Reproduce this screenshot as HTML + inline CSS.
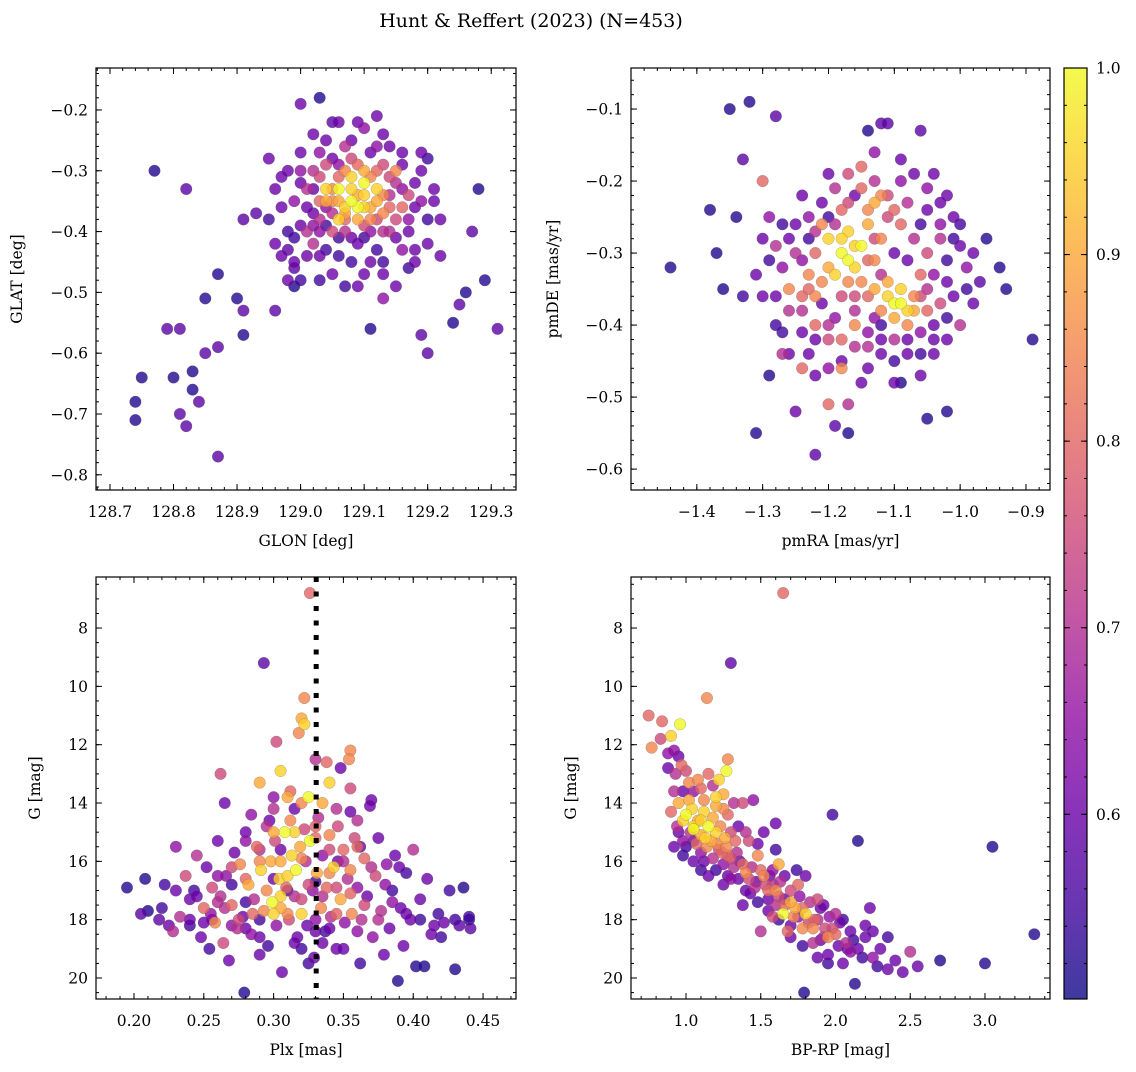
<!DOCTYPE html>
<html><head><meta charset="utf-8"><style>
html,body{margin:0;padding:0;background:#fff;}
svg text{font-family:"DejaVu Serif","Liberation Serif",serif;fill:#000;}
</style></head><body>
<svg id="fig" width="1136" height="1067" viewBox="0 0 1136 1067" xmlns="http://www.w3.org/2000/svg">
<text x="531" y="27" font-size="19" text-anchor="middle">Hunt &amp; Reffert (2023) (N=453)</text>
</svg>
<script>
// ---------- data ----------
const skyPoints = [
[128.74,-0.68,.52],[128.74,-0.71,.52],[128.75,-0.64,.52],[128.77,-0.30,.52],[128.79,-0.56,.58],[128.80,-0.64,.52],[128.81,-0.70,.58],[128.81,-0.56,.58],[128.82,-0.33,.58],[128.83,-0.63,.52],[128.83,-0.66,.52],[128.82,-0.72,.58],[128.84,-0.68,.58],[128.85,-0.60,.58],[128.85,-0.51,.52],[128.87,-0.47,.52],[128.87,-0.59,.58],[128.87,-0.77,.58],[128.90,-0.51,.52],[128.91,-0.53,.58],[128.91,-0.57,.52],[128.91,-0.38,.58],[128.93,-0.37,.58],[128.96,-0.53,.58],[128.98,-0.43,.58],[128.99,-0.46,.58],[128.99,-0.49,.52],[129.24,-0.55,.52],[129.25,-0.52,.58],[129.26,-0.50,.52],[129.27,-0.40,.58],[129.28,-0.33,.52],[129.29,-0.48,.52],[129.31,-0.56,.58],[129.20,-0.60,.58],[129.19,-0.57,.58],[129.11,-0.56,.52],[129.03,-0.18,.52],[129.05,-0.22,.58],
[129.00,-0.19,.6],[129.02,-0.24,.6],[129.06,-0.22,.6],[129.09,-0.22,.6],[129.10,-0.23,.65],[129.12,-0.21,.6],[129.14,-0.26,.6],[129.16,-0.29,.6],[129.19,-0.27,.6],[129.19,-0.30,.6],[129.21,-0.33,.6],[129.22,-0.38,.6],[129.20,-0.42,.6],[129.22,-0.44,.6],[129.18,-0.45,.6],[129.15,-0.49,.6],[129.13,-0.51,.65],[129.09,-0.49,.6],[129.08,-0.45,.55],[129.05,-0.47,.6],[129.03,-0.48,.55],[129.01,-0.44,.6],[128.99,-0.45,.6],[128.98,-0.40,.55],[128.97,-0.36,.6],[128.96,-0.33,.6],[128.95,-0.28,.6],[128.98,-0.30,.6],[129.00,-0.30,.65],[129.03,-0.27,.65],[129.05,-0.28,.6],[129.07,-0.26,.7],[129.11,-0.27,.6],[129.13,-0.29,.75],[129.15,-0.32,.7],[129.17,-0.34,.75],[129.17,-0.38,.65],[129.15,-0.41,.6],[129.12,-0.43,.55],[129.10,-0.41,.55],[129.06,-0.41,.55],[129.04,-0.39,.55],[129.02,-0.37,.6],[129.00,-0.39,.6],[128.99,-0.35,.65],[129.01,-0.33,.7],[129.03,-0.31,.75],[129.05,-0.33,.85],[129.07,-0.30,.85],[129.09,-0.29,.8],[129.11,-0.31,.85],[129.13,-0.34,.85],[129.14,-0.36,.8],[129.12,-0.38,.75],[129.10,-0.39,.75],[129.07,-0.38,.8],[129.05,-0.37,.7],[129.03,-0.35,.8],[129.06,-0.35,.9],[129.08,-0.33,.95],[129.10,-0.34,.95],[129.09,-0.36,1.0],[129.07,-0.36,.95],[129.11,-0.36,.9],[129.08,-0.31,.95],[129.10,-0.32,1.0],[129.12,-0.33,.95],[129.06,-0.38,.95],[129.09,-0.38,.9],[129.04,-0.35,.9],[129.13,-0.37,.85],[129.02,-0.42,.7],[129.04,-0.43,.55],[129.16,-0.43,.65],[129.18,-0.36,.6],[128.98,-0.48,.6],[128.97,-0.44,.6],[129.14,-0.40,.7],[129.06,-0.29,.65],[129.03,-0.40,.65],[129.11,-0.45,.6],[129.16,-0.36,.8],[129.15,-0.30,.85],[129.02,-0.33,.6],[129.08,-0.41,.6],[129.12,-0.26,.65],
[129.0,-0.32,.6],[129.02,-0.30,.7],[129.04,-0.29,.75],[129.06,-0.31,.8],[129.08,-0.28,.75],[129.10,-0.30,.9],[129.12,-0.30,.8],[129.14,-0.31,.75],[129.16,-0.33,.65],[129.18,-0.32,.6],[129.19,-0.35,.65],[129.17,-0.40,.6],[129.15,-0.38,.75],[129.13,-0.40,.7],[129.11,-0.40,.65],[129.09,-0.42,.6],[129.07,-0.40,.7],[129.05,-0.40,.75],[129.03,-0.38,.7],[129.01,-0.36,.6],[129.04,-0.33,.95],[129.06,-0.33,1.0],[129.08,-0.35,1.0],[129.10,-0.36,.95],[129.12,-0.35,.9],[129.07,-0.37,.9],[129.11,-0.38,.85],[129.05,-0.35,.85],[129.09,-0.34,.9],[129.02,-0.39,.65],[128.99,-0.41,.55],[129.03,-0.44,.6],[129.06,-0.44,.55],[129.13,-0.45,.55],[129.18,-0.43,.6],[129.20,-0.38,.55],[129.21,-0.35,.6],[129.16,-0.27,.6],[129.13,-0.24,.6],[129.08,-0.25,.6],[129.04,-0.25,.6],[129.00,-0.27,.6],[128.97,-0.31,.6],[128.95,-0.38,.55],[128.96,-0.42,.6],[129.00,-0.48,.55],[129.07,-0.49,.55],[129.13,-0.47,.6],[129.17,-0.46,.55],[129.10,-0.47,.6],[129.20,-0.28,.55],[129.04,-0.36,.65],[129.14,-0.34,.7],[129.01,-0.40,.7]
];
const pmPoints = [
[-1.44,-0.32,.52],[-0.89,-0.42,.52],[-1.32,-0.09,.52],[-1.35,-0.10,.52],[-1.28,-0.11,.58],[-1.31,-0.55,.52],[-1.22,-0.58,.58],[-1.06,-0.13,.58],[-1.14,-0.13,.52],[-1.12,-0.12,.58],[-1.11,-0.12,.58],[-1.05,-0.53,.52],[-1.02,-0.52,.52],[-1.09,-0.48,.52],[-1.17,-0.55,.52],[-1.19,-0.54,.58],[-0.93,-0.35,.52],[-0.94,-0.32,.52],[-0.96,-0.28,.52],[-0.97,-0.34,.58],[-1.38,-0.24,.52],[-1.37,-0.30,.52],[-1.36,-0.35,.52],[-1.34,-0.25,.52],[-1.33,-0.17,.58],[-1.29,-0.47,.52],[-1.27,-0.44,.7],[-1.25,-0.52,.6],
[-1.25,-0.26,.6],[-1.23,-0.25,.65],[-1.21,-0.23,.6],[-1.19,-0.21,.7],[-1.17,-0.19,.75],[-1.15,-0.18,.8],[-1.13,-0.20,.7],[-1.11,-0.22,.75],[-1.09,-0.20,.65],[-1.07,-0.19,.6],[-1.05,-0.21,.65],[-1.03,-0.23,.6],[-1.01,-0.25,.6],[-1.00,-0.29,.6],[-0.99,-0.32,.65],[-1.01,-0.36,.6],[-1.00,-0.40,.7],[-1.02,-0.42,.6],[-1.04,-0.44,.6],[-1.06,-0.41,.65],[-1.08,-0.44,.6],[-1.10,-0.42,.7],[-1.12,-0.44,.6],[-1.14,-0.41,.65],[-1.16,-0.43,.7],[-1.18,-0.45,.6],[-1.20,-0.42,.75],[-1.22,-0.40,.8],[-1.24,-0.41,.6],[-1.26,-0.38,.7],[-1.28,-0.36,.6],[-1.27,-0.32,.65],[-1.25,-0.30,.7],[-1.23,-0.33,.85],[-1.22,-0.36,.85],[-1.20,-0.32,.9],[-1.20,-0.28,.95],[-1.18,-0.30,1.0],[-1.17,-0.27,.95],[-1.16,-0.32,.95],[-1.15,-0.29,1.0],[-1.14,-0.26,.9],[-1.13,-0.31,.85],[-1.12,-0.28,.85],[-1.11,-0.34,.9],[-1.10,-0.37,1.0],[-1.09,-0.35,.95],[-1.08,-0.38,.95],[-1.07,-0.36,.85],[-1.06,-0.33,.8],[-1.05,-0.30,.75],[-1.07,-0.28,.7],[-1.09,-0.26,.8],[-1.11,-0.25,.75],[-1.03,-0.28,.7],[-1.04,-0.33,.65],[-1.03,-0.37,.75],[-1.05,-0.38,.8],[-1.12,-0.38,.85],[-1.14,-0.36,.8],[-1.16,-0.38,.7],[-1.18,-0.36,.75],[-1.19,-0.39,.65],[-1.21,-0.37,.6],[-1.14,-0.24,.85],[-1.13,-0.23,.9],[-1.18,-0.24,.8],[-1.22,-0.30,.8],[-1.26,-0.35,.85],[-1.28,-0.29,.7],[-1.30,-0.28,.6],[-1.29,-0.25,.65],[-1.31,-0.33,.6],[-1.33,-0.36,.55],[-1.24,-0.46,.8],[-1.18,-0.46,.85],[-1.15,-0.48,.6],[-1.12,-0.40,.55],[-1.08,-0.31,.6],[-1.02,-0.31,.55],[-0.98,-0.37,.6],[-1.06,-0.26,.55],[-1.10,-0.30,.6],[-1.16,-0.22,.6],[-1.20,-0.25,.55],[-1.23,-0.28,.55],[-1.06,-0.47,.6],[-1.27,-0.41,.55],[-1.23,-0.44,.6],[-1.17,-0.51,.7],[-1.20,-0.51,.8],[-1.30,-0.20,.8],[-1.24,-0.36,.8],[-1.13,-0.35,.9],[-1.17,-0.34,.85],
[-1.26,-0.28,.6],[-1.24,-0.31,.65],[-1.22,-0.27,.7],[-1.21,-0.34,.85],[-1.19,-0.33,.95],[-1.18,-0.28,.95],[-1.17,-0.31,1.0],[-1.16,-0.29,.95],[-1.15,-0.34,.85],[-1.14,-0.31,.8],[-1.13,-0.28,.75],[-1.12,-0.33,.7],[-1.11,-0.36,.95],[-1.10,-0.39,.9],[-1.09,-0.37,1.0],[-1.08,-0.40,.85],[-1.07,-0.38,.9],[-1.06,-0.36,.75],[-1.05,-0.35,.7],[-1.04,-0.40,.6],[-1.02,-0.34,.6],[-1.01,-0.28,.55],[-1.03,-0.26,.65],[-1.05,-0.24,.6],[-1.08,-0.23,.7],[-1.10,-0.24,.8],[-1.12,-0.22,.85],[-1.15,-0.21,.8],[-1.17,-0.23,.75],[-1.19,-0.26,.7],[-1.21,-0.26,.85],[-1.23,-0.35,.8],[-1.24,-0.38,.7],[-1.22,-0.42,.6],[-1.20,-0.40,.7],[-1.18,-0.42,.8],[-1.16,-0.40,.85],[-1.14,-0.43,.7],[-1.12,-0.42,.6],[-1.10,-0.45,.55],[-1.08,-0.42,.6],[-1.06,-0.44,.55],[-1.04,-0.42,.6],[-1.02,-0.39,.55],[-0.99,-0.35,.55],[-0.98,-0.30,.6],[-1.00,-0.26,.55],[-1.02,-0.22,.6],[-1.04,-0.19,.6],[-1.09,-0.17,.6],[-1.13,-0.16,.65],[-1.20,-0.19,.6],[-1.24,-0.22,.6],[-1.27,-0.26,.55],[-1.29,-0.31,.55],[-1.30,-0.36,.6],[-1.28,-0.40,.55],[-1.26,-0.44,.6],[-1.22,-0.47,.6],[-1.20,-0.46,.65],[-1.14,-0.46,.6],[-1.10,-0.48,.6],[-1.16,-0.36,.75],[-1.13,-0.39,.65]
];
const plxPoints = [
[0.326,6.8,.8],[0.293,9.2,.58],[0.322,10.4,.85],[0.320,11.1,.9],[0.322,11.3,.95],[0.318,11.6,.85],[0.302,11.9,.75],[0.355,12.2,.85],[0.354,12.5,.85],[0.338,12.6,.8],[0.348,12.8,.6],[0.330,12.5,.7],[0.305,12.9,.95],[0.262,13.0,.75],[0.290,13.3,.9],[0.340,13.3,.95],[0.355,13.5,.75],[0.312,13.6,.8],[0.325,13.8,1.0],[0.300,13.8,.65],[0.335,14.0,.9],[0.284,14.4,.65],[0.265,14.0,.6],[0.370,13.9,.6],[0.345,14.2,.7],
[0.195,16.9,.52],[0.205,17.8,.58],[0.208,16.6,.52],[0.210,17.7,.52],[0.218,18.0,.58],[0.222,16.8,.55],[0.225,18.2,.6],[0.228,18.4,.7],[0.230,15.5,.65],[0.233,17.9,.7],[0.237,16.5,.75],[0.240,17.3,.6],[0.243,17.0,.55],[0.245,15.8,.7],[0.248,18.6,.6],[0.250,17.6,.8],[0.252,16.2,.6],[0.254,19.0,.55],[0.256,16.9,.75],[0.258,18.1,.85],[0.260,15.3,.6],[0.262,17.2,.7],[0.264,18.8,.75],[0.266,16.5,.65],[0.268,19.4,.6],[0.270,17.5,.8],[0.272,15.7,.6],[0.274,18.3,.7],[0.276,16.1,.85],[0.278,17.9,.6],[0.279,20.5,.52],[0.280,15.0,.6],[0.282,16.8,.9],[0.284,18.5,.65],[0.286,17.3,.7],[0.288,15.5,.8],[0.290,19.2,.6],[0.291,16.3,.95],[0.293,17.7,.85],[0.295,14.8,.7],[0.296,18.9,.55],[0.298,16.0,.9],[0.299,17.4,1.0],[0.301,15.3,.75],[0.302,18.2,.65],[0.304,16.6,.95],[0.305,17.6,.9],[0.306,19.8,.6],[0.308,15.0,1.0],[0.309,16.9,.8],[0.311,18.0,.75],[0.312,14.6,.85],[0.313,15.8,.95],[0.315,17.2,.7],[0.316,16.3,1.0],[0.317,18.6,.6],[0.319,15.5,.9],[0.320,17.8,.95],[0.322,14.9,.75],[0.323,16.0,.7],[0.324,18.2,.6],[0.326,15.3,1.0],[0.328,17.0,.65],[0.329,19.3,.6],[0.331,16.4,.9],[0.332,14.5,.7],[0.334,17.6,.85],[0.335,15.8,.65],[0.337,18.4,.55],[0.338,16.9,.8],[0.340,15.1,.85],[0.341,17.9,.7],[0.343,16.2,.95],[0.345,19.0,.6],[0.346,14.8,.75],[0.348,17.3,.9],[0.350,15.6,.8],[0.351,18.1,.65],[0.353,16.6,.7],[0.355,14.3,.6],[0.356,17.8,.85],[0.358,15.2,.75],[0.360,16.9,.65],[0.362,19.5,.55],[0.363,18.0,.7],[0.365,15.9,.8],[0.367,17.2,.6],[0.369,14.1,.6],[0.371,18.6,.65],[0.373,16.5,.75],[0.375,15.2,.6],[0.377,17.7,.7],[0.379,19.2,.6],[0.381,16.1,.65],[0.383,18.3,.6],[0.385,17.0,.55],[0.387,15.8,.6],[0.389,20.1,.52],[0.391,17.6,.6],[0.393,18.9,.6],[0.395,16.4,.55],[0.398,18.0,.6],[0.400,15.6,.7],[0.402,19.6,.52],[0.405,17.3,.6],[0.408,19.6,.52],[0.410,16.6,.6],[0.413,18.5,.6],[0.418,17.8,.55],[0.422,18.1,.6],[0.426,17.0,.55],[0.430,19.7,.52],[0.433,18.2,.58],[0.436,16.9,.52],[0.440,18.0,.52],[0.441,18.3,.58],[0.310,17.0,.55],[0.300,16.6,.6],[0.290,18.0,.55],[0.320,19.0,.55],[0.335,18.8,.6],[0.270,16.8,.55],[0.256,18.0,.6],[0.240,18.2,.55],[0.346,16.0,.6],[0.362,15.5,.6],[0.280,17.4,.55],[0.305,15.6,.6],[0.330,16.7,.55],[0.315,14.2,.6],[0.297,14.6,.6],
[0.245,17.2,.6],[0.255,17.8,.65],[0.265,17.6,.7],[0.275,18.0,.75],[0.285,17.8,.8],[0.295,17.0,.85],[0.305,16.0,.9],[0.315,15.0,.95],[0.325,16.8,.75],[0.335,17.2,.7],[0.345,17.8,.8],[0.355,16.3,.85],[0.365,17.5,.75],[0.375,18.0,.7],[0.385,17.4,.65],[0.395,17.8,.6],[0.405,18.0,.55],[0.415,18.2,.6],[0.25,18.1,.6],[0.26,16.5,.65],[0.27,16.2,.75],[0.28,16.6,.8],[0.29,16.0,.85],[0.30,15.0,.9],[0.31,16.5,.95],[0.32,15.9,.85],[0.33,15.2,.8],[0.34,16.4,.85],[0.35,16.0,.7],[0.36,15.5,.8],[0.37,16.2,.7],[0.38,16.8,.65],[0.39,16.2,.6],[0.30,17.8,.95],[0.31,17.8,.85],[0.32,17.3,.75],[0.33,18.0,.65],[0.34,18.3,.6],[0.28,18.3,.6],[0.27,18.2,.65],[0.29,18.6,.6],[0.35,19.0,.6],[0.36,18.4,.65],[0.30,14.2,.7],[0.33,14.8,.8],[0.32,14.0,.85],[0.31,13.8,.9],[0.34,15.6,.75],[0.36,14.6,.7],[0.29,15.6,.7],[0.28,15.3,.65],[0.26,17.4,.7],[0.24,18.0,.6],[0.23,17.0,.6],[0.22,17.6,.55],[0.42,18.6,.55],[0.43,18.0,.55],[0.44,17.9,.55],[0.315,18.8,.6],[0.325,19.5,.55],[0.345,16.9,.75],[0.355,17.1,.8],[0.305,17.2,.95],[0.33,18.4,.6]
];
const cmdPoints = [
[0.75,11.0,.8],[0.77,12.1,.85],[0.84,11.2,.8],[0.90,11.7,.95],[0.96,11.3,1.0],[0.92,12.2,.65],[0.95,12.4,.6],[0.88,12.8,.6],[0.93,13.0,.7],[0.97,12.7,.8],[1.00,12.9,.75],[1.02,13.3,.85],[0.98,13.6,.6],[1.05,13.6,.65],[1.10,13.5,.8],[1.18,13.4,.7],[1.14,10.4,.85],[1.30,9.2,.58],[1.65,6.8,.8],[1.28,12.5,.85],[1.27,12.9,1.0],[1.22,13.2,.95],[1.25,13.7,.9],[1.32,14.0,.7],[1.38,14.0,.75],[0.95,14.0,.9],[1.00,14.4,1.0],[1.04,14.2,.95],[1.08,14.6,.9],[1.12,14.3,.95],[1.15,14.8,1.0],[1.18,14.5,.9],[1.20,15.0,.95],[1.23,14.8,.85],[1.26,15.2,.9],[1.30,15.0,.75],[1.33,15.3,.8],[0.92,15.5,.6],[0.98,15.3,.65],[1.03,15.0,.7],[1.07,15.4,.8],[1.10,15.7,.65],[1.14,15.5,.85],[1.18,15.9,.7],[1.22,15.6,.75],[1.25,16.1,.65],[1.28,15.8,.8],[1.32,16.2,.7],[1.36,16.0,.6],[1.40,16.4,.85],[1.44,16.2,.7],[1.47,16.7,.6],[1.50,16.3,.8],[1.53,16.8,.75],[1.56,16.5,.6],[1.60,17.0,.85],[1.63,16.7,.7],[1.66,17.3,.6],[1.70,17.0,.75],[1.73,17.6,.9],[1.76,17.2,.65],[1.80,17.8,.95],[1.83,17.4,.7],[1.86,18.0,.8],[1.90,17.6,.6],[1.93,18.3,.75],[1.96,17.9,.65],[2.00,18.5,.8],[2.03,18.1,.6],[2.07,18.8,.7],[2.10,18.4,.6],[2.15,19.0,.6],[2.20,18.6,.6],[2.25,19.3,.65],[2.30,19.0,.6],[2.35,19.7,.6],[2.40,19.4,.6],[2.50,19.1,.7],[2.45,19.8,.6],[2.55,19.6,.6],[2.70,19.4,.52],[3.00,19.5,.52],[3.05,15.5,.52],[3.33,18.5,.52],[2.15,15.3,.52],[1.98,14.4,.55],[2.23,17.6,.6],[2.13,20.2,.52],[1.79,20.5,.52],[1.50,18.4,.7],[1.45,13.9,.65],[1.60,14.7,.6],[1.38,17.5,.6],[1.55,17.3,.6],[1.70,18.2,.6],[1.85,18.8,.7],[1.95,19.2,.6],[2.05,19.5,.6],[1.42,15.3,.75],[1.35,14.8,.6],[1.15,16.5,.6],[1.25,16.8,.6],[1.05,16.0,.6],[1.48,15.8,.85],[1.62,16.1,.9],[1.75,16.8,.8],[1.88,17.3,.75],[2.00,17.8,.7],[1.58,17.9,.75],[1.68,18.4,.8],[1.80,16.5,.6],[1.20,14.1,.9],[1.12,13.9,.85],[1.28,14.4,.8],[0.98,15.8,.55],[1.10,16.3,.55],[1.40,17.0,.6],[1.65,17.8,1.0],[1.78,18.3,.85],[1.90,18.7,.6],[2.20,18.2,.6],[2.35,18.6,.55],[1.30,16.6,.65],[1.52,15.0,.6],[0.95,15.0,.6],[1.05,14.8,.95],[1.10,15.1,.9],[1.60,17.5,.7],[1.75,17.9,.65],[1.95,18.6,.85],[2.10,19.1,.65],
[1.05,14.9,1.0],[1.10,14.6,.95],[1.13,15.2,.95],[1.17,15.3,.9],[1.21,15.4,.85],[1.24,15.7,.8],[1.27,15.5,.85],[1.30,15.9,.75],[1.34,15.7,.7],[1.38,16.1,.8],[1.42,16.6,.75],[1.46,16.9,.7],[1.52,16.5,.85],[1.55,17.0,.8],[1.58,16.8,.7],[1.62,17.2,.75],[1.66,17.5,.8],[1.70,17.4,.9],[1.72,17.9,.85],[1.78,17.6,.8],[1.82,18.1,.75],[1.85,18.3,.85],[1.88,18.0,.7],[1.92,18.6,.7],[1.98,18.3,.75],[2.02,18.9,.6],[2.08,19.0,.6],[2.12,18.7,.55],[2.18,19.3,.55],[1.00,15.5,.55],[1.05,15.3,.6],[1.12,16.0,.6],[1.20,16.3,.55],[1.28,16.5,.6],[1.35,16.6,.6],[1.43,17.1,.6],[1.48,17.4,.55],[1.55,17.7,.6],[1.62,18.0,.55],[1.70,18.6,.6],[1.78,18.9,.55],[1.88,19.3,.6],[0.98,14.6,.95],[1.02,13.9,.9],[1.08,13.2,.85],[1.15,13.0,.8],[1.20,13.8,.95],[1.25,14.2,.85],[0.92,13.6,.7],[0.88,12.3,.65],[0.83,11.8,.75],[0.90,14.3,.8],[0.94,14.8,.7],[1.40,15.0,.7],[1.48,15.4,.6],[1.60,15.6,.55],[1.58,16.3,.65],[1.66,16.5,.6],[1.74,16.3,.55],[1.92,17.5,.6],[2.05,18.0,.55],[2.25,18.4,.6],[2.28,19.6,.55],[1.95,19.5,.55]
];
const glonTicks = [128.7,128.8,128.9,129.0,129.1,129.2,129.3];
const glatTicks = [-0.2,-0.3,-0.4,-0.5,-0.6,-0.7,-0.8];
const pmraTicks = [-1.4,-1.3,-1.2,-1.1,-1.0,-0.9];
const pmdeTicks = [-0.1,-0.2,-0.3,-0.4,-0.5,-0.6];
const plxTicks = [0.20,0.25,0.30,0.35,0.40,0.45];
const gTicks = [8,10,12,14,16,18,20];
const bprpTicks = [1.0,1.5,2.0,2.5,3.0];
const cbarTicks = [0.6,0.7,0.8,0.9,1.0];
const plxLine = [0.3305];

// ---------- helpers ----------
const NS = 'http://www.w3.org/2000/svg';
const svg = document.getElementById('fig');
function mk(tag, attrs, parent){const e=document.createElementNS(NS,tag);for(const k in attrs)e.setAttribute(k,attrs[k]);(parent||svg).appendChild(e);return e;}
const stops=[[0,'#0d0887'],[0.1,'#41049d'],[0.2,'#6a00a8'],[0.3,'#8f0da4'],[0.4,'#b12a90'],[0.5,'#cc4778'],[0.6,'#e16462'],[0.7,'#f2844b'],[0.8,'#fca636'],[0.9,'#fcce25'],[1,'#f0f921']];
function hex(h){return [1,3,5].map(i=>parseInt(h.substr(i,2),16));}
const VMIN=0.5, VMAX=1.0;
function cmap(v){let t=Math.max(0,Math.min(1,(v-VMIN)/(VMAX-VMIN)));for(let i=1;i<stops.length;i++){if(t<=stops[i][0]){const a=stops[i-1],b=stops[i];const f=(t-a[0])/(b[0]-a[0]);const ca=hex(a[1]),cb=hex(b[1]);return 'rgb('+ca.map((c,j)=>Math.round(c+(cb[j]-c)*f)).join(',')+')';}}return stops[stops.length-1][1];}
function fmt(v,d){return (v<0?'\u2212':'')+Math.abs(v).toFixed(d);}

function panel(o){
  const g=mk('g',{});
  
  
  const sx=v=>o.x0+(v-o.xmin)/(o.xmax-o.xmin)*(o.x1-o.x0);
  const sy=v=>o.yinv? o.y0+(v-o.ymin)/(o.ymax-o.ymin)*(o.y1-o.y0) : o.y1-(v-o.ymin)/(o.ymax-o.ymin)*(o.y1-o.y0);
  const clipId='clip-'+o.name;
  const cp=mk('clipPath',{id:clipId},g);
  mk('rect',{x:o.x0,y:o.y0,width:o.x1-o.x0,height:o.y1-o.y0},cp);
  const pg=mk('g',{'clip-path':'url(#'+clipId+')'},g);
  const pts=o.data.slice().sort((a,b)=>a[2]-b[2]);
  pts.forEach(p=>{
    const c=mk('circle',{cx:sx(p[0]),cy:sy(p[1]),r:5.8,fill:cmap(p[2]),'fill-opacity':0.8,stroke:'rgba(90,90,90,0.45)','stroke-width':0.5},pg);
    
    
  });
  if(o.vline){o.vline.forEach(v=>{
    const l=mk('line',{x1:sx(v),x2:sx(v),y1:o.y0,y2:o.y1,stroke:'#000','stroke-width':5,'stroke-dasharray':'5 9.5'},pg);
    
    
  });}
  const fr=mk('rect',{x:o.x0,y:o.y0,width:o.x1-o.x0,height:o.y1-o.y0,fill:'none',stroke:'#000','stroke-width':1.2},g);
  
  
  for(let v=Math.ceil(o.xmin/o.xminor)*o.xminor; v<=o.xmax; v+=o.xminor){const X=sx(v);mk('line',{x1:X,x2:X,y1:o.y1,y2:o.y1-3,stroke:'#000'},g);mk('line',{x1:X,x2:X,y1:o.y0,y2:o.y0+3,stroke:'#000'},g);}
  for(let v=Math.ceil(o.ymin/o.yminor)*o.yminor; v<=o.ymax; v+=o.yminor){const Y=sy(v);mk('line',{x1:o.x0,x2:o.x0+3,y1:Y,y2:Y,stroke:'#000'},g);mk('line',{x1:o.x1,x2:o.x1-3,y1:Y,y2:Y,stroke:'#000'},g);}
  o.xt.forEach(v=>{const X=sx(v);mk('line',{x1:X,x2:X,y1:o.y1,y2:o.y1-6,stroke:'#000'},g);mk('line',{x1:X,x2:X,y1:o.y0,y2:o.y0+6,stroke:'#000'},g);
    const t=mk('text',{x:X,y:o.y1+27,'font-size':15.5,'text-anchor':'middle'},g);t.textContent=fmt(v,o.xd);
    });
  o.yt.forEach(v=>{const Y=sy(v);mk('line',{x1:o.x0,x2:o.x0+6,y1:Y,y2:Y,stroke:'#000'},g);mk('line',{x1:o.x1,x2:o.x1-6,y1:Y,y2:Y,stroke:'#000'},g);
    const t=mk('text',{x:o.x0-8,y:Y+5.5,'font-size':15.5,'text-anchor':'end'},g);t.textContent=fmt(v,o.yd);
    });
  const xl=mk('text',{x:(o.x0+o.x1)/2,y:o.y1+56,'font-size':15.5,'text-anchor':'middle'},g);xl.textContent=o.xlabel;
  
  const yx=o.ylx, yy=(o.y0+o.y1)/2;
  const yl=mk('text',{x:yx,y:yy,'font-size':15.5,'text-anchor':'middle',transform:'rotate(-90 '+yx+' '+yy+')'},g);yl.textContent=o.ylabel;
  
}

panel({name:'sky-position-panel',data:skyPoints,x0:96,x1:516,y0:68,y1:490,xmin:128.678,xmax:129.339,ymin:-0.825,ymax:-0.131,xt:glonTicks,yt:glatTicks,xd:1,yd:1,xminor:0.02,yminor:0.02,xlabel:'GLON [deg]',ylabel:'GLAT [deg]',ylx:22});
panel({name:'proper-motion-panel',data:pmPoints,x0:631,x1:1050,y0:68,y1:490,xmin:-1.5,xmax:-0.8635,ymin:-0.629,ymax:-0.043,xt:pmraTicks,yt:pmdeTicks,xd:1,yd:1,xminor:0.02,yminor:0.02,xlabel:'pmRA [mas/yr]',ylabel:'pmDE [mas/yr]',ylx:558});
panel({name:'parallax-magnitude-panel',data:plxPoints,x0:96,x1:516,y0:577,y1:999,xmin:0.1728,xmax:0.4736,ymin:6.25,ymax:20.72,yinv:true,xt:plxTicks,yt:gTicks,xd:2,yd:0,xminor:0.01,yminor:0.5,xlabel:'Plx [mas]',ylabel:'G [mag]',ylx:40,vline:plxLine});
panel({name:'color-magnitude-panel',data:cmdPoints,x0:631,x1:1050,y0:577,y1:999,xmin:0.632,xmax:3.435,ymin:6.25,ymax:20.72,yinv:true,xt:bprpTicks,yt:gTicks,xd:1,yd:0,xminor:0.1,yminor:0.5,xlabel:'BP-RP [mag]',ylabel:'G [mag]',ylx:576});

// ---------- colorbar ----------
(function(){
  const cx0=1064,cx1=1087,cy0=68,cy1=999,cmin=0.501,cmax=1.0;
  const g=mk('g',{});
  
  
  const defs=mk('defs',{},g);
  const lg=mk('linearGradient',{id:'cbgrad',x1:0,y1:1,x2:0,y2:0},defs);
  for(let i=0;i<=20;i++){const v=cmin+(cmax-cmin)*i/20;mk('stop',{offset:i/20,'stop-color':cmap(v),'stop-opacity':0.8},lg);}
  mk('rect',{x:cx0,y:cy0,width:cx1-cx0,height:cy1-cy0,fill:'url(#cbgrad)',stroke:'#000','stroke-width':1.2},g);
  const sy=v=>cy1-(v-cmin)/(cmax-cmin)*(cy1-cy0);
  for(let v=0.52; v<=1.0001; v+=0.02){const Y=sy(v);mk('line',{x1:cx1,x2:cx1-3,y1:Y,y2:Y,stroke:'#000'},g);mk('line',{x1:cx0,x2:cx0+3,y1:Y,y2:Y,stroke:'#000'},g);}
  cbarTicks.forEach(v=>{const Y=sy(v);mk('line',{x1:cx1,x2:cx1-6,y1:Y,y2:Y,stroke:'#000'},g);mk('line',{x1:cx0,x2:cx0+6,y1:Y,y2:Y,stroke:'#000'},g);
    const t=mk('text',{x:cx1+9,y:Y+5.5,'font-size':15.5},g);t.textContent=v.toFixed(1);
    });
})();
</script>
</body></html>
